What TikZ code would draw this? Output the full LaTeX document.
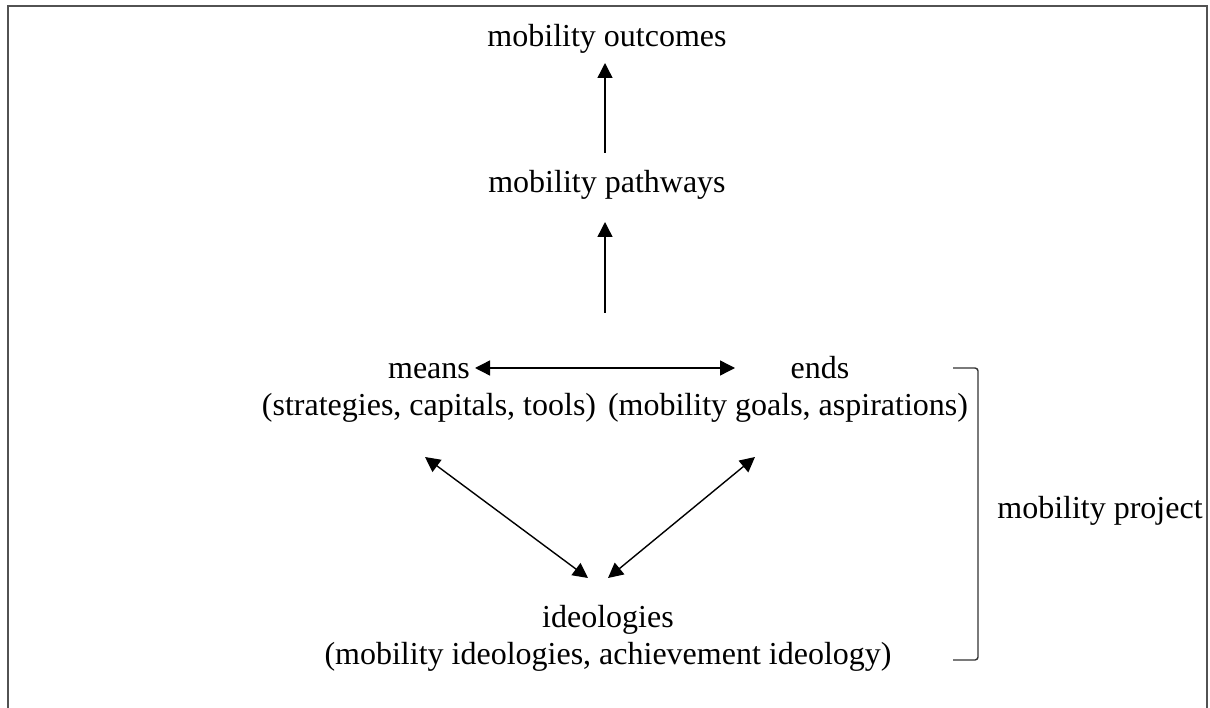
\documentclass[tikz,border=0pt]{standalone}
\usepackage{fontspec}
\setmainfont{Liberation Serif}
\usetikzlibrary{arrows.meta}
\begin{document}
\begin{tikzpicture}[x=1pt,y=-1pt,
  lbl/.style={anchor=base,inner sep=0pt,font=\fontsize{32}{37}\selectfont},
  tip/.style={Triangle[length=15pt,width=15pt]},
  conn/.style={line width=1.4pt,{Triangle[length=15pt,width=15pt]}-{Triangle[length=15pt,width=15pt]}},
  oneway/.style={line width=1.4pt,-{Triangle[length=15pt,width=15pt]}},
  frame/.style={line width=2.2pt,draw=black!68},
  brk/.style={line width=1.4pt,draw=black!80,rounded corners=3pt}]
\useasboundingbox (0,0) rectangle (1210,708);
\draw[frame] (8,710) -- (8,6) -- (1207,6) -- (1207,710);
\node[lbl] (outc) at (607,47) {mobility outcomes};
\node[lbl] (path) at (607,193) {mobility pathways};
\node[lbl] (means) at (429,378) {means};
\node[lbl] (means2) at (429,415) {(strategies, capitals, tools)};
\node[lbl] (ends) at (820,378) {ends};
\node[lbl] (ends2) at (788,415) {(mobility goals, aspirations)};
\node[lbl] (ideo) at (608,627) {ideologies};
\node[lbl] (ideo2) at (608,664) {(mobility ideologies, achievement ideology)};
\node[lbl] (proj) at (1100,518) {mobility project};
\coordinate (a1s) at (605,153);
\coordinate (a1e) at (605,63);
\coordinate (a2s) at (605,313);
\coordinate (a2e) at (605,222);
\coordinate (hl) at (475,368);
\coordinate (hr) at (735,368);
\coordinate (dl1) at (425,457);
\coordinate (dl2) at (588,578);
\coordinate (dr1) at (755,457);
\coordinate (dr2) at (608,578);
\draw[oneway] (a1s) -- (a1e);
\draw[oneway] (a2s) -- (a2e);
\draw[conn] (hl) -- (hr);
\draw[conn] (dl1) -- (dl2);
\draw[conn] (dr1) -- (dr2);
\coordinate (b1) at (953,368);
\coordinate (b2) at (953,660);
\draw[brk] (b1) -- (978,368) -- (978,660) -- (b2);
\end{tikzpicture}
\end{document}
